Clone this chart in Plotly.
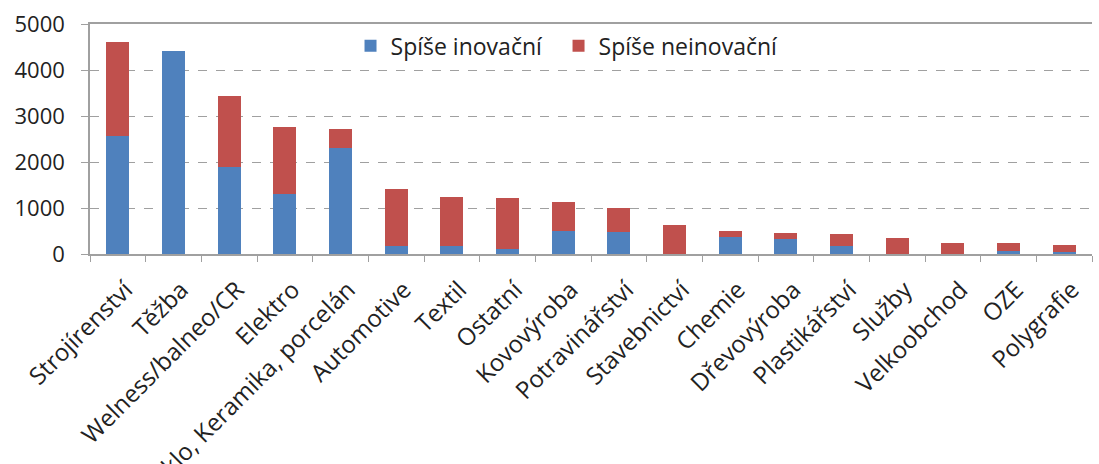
import plotly.graph_objects as go

categories = ["Strojírenství", "Těžba", "Welness/balneo/CR", "Elektro",
              "Sklo, Keramika, porcelán", "Automotive", "Textil", "Ostatní",
              "Kovovýroba", "Potravinářství", "Stavebnictví", "Chemie",
              "Dřevovýroba", "Plastikářství", "Služby", "Velkoobchod", "OZE",
              "Polygrafie"]
inovacni = [2560, 4420, 1890, 1300, 2310, 170, 170, 110, 500, 480, 0, 370,
            320, 165, 0, 0, 60, 40]
totals = [4600, 4420, 3440, 2760, 2710, 1420, 1240, 1220, 1120, 1010, 620,
          500, 450, 430, 350, 245, 250, 195]
neinovacni = [t - i for t, i in zip(totals, inovacni)]

FONT = "Open Sans"
n = len(categories)
LABEL_SHIFT = 0.14  # label offset (category units) to the right of bar centre
label_pos = [i + LABEL_SHIFT for i in range(n)]

fig = go.Figure()
fig.add_trace(go.Bar(x=categories, y=inovacni, name="Spíše inovační",
                     marker=dict(color="#4F81BD", line=dict(width=0)),
                     legend="legend"))
fig.add_trace(go.Bar(x=categories, y=neinovacni, name="Spíše neinovační",
                     marker=dict(color="#C0504D", line=dict(width=0)),
                     legend="legend2"))
# invisible helper trace so the label axis is drawn
fig.add_trace(go.Scatter(x=label_pos, y=[0] * n, xaxis="x2", mode="markers",
                         marker=dict(opacity=0, size=1), showlegend=False,
                         hoverinfo="skip"))

leg_common = dict(orientation="h", xanchor="left", y=0.905, yanchor="middle",
                  font=dict(size=23, family=FONT), bgcolor="rgba(0,0,0,0)",
                  itemwidth=30)

fig.update_layout(
    barmode="stack",
    bargap=0.59,
    width=1099, height=464,
    margin=dict(l=90, r=7, t=24, b=210),
    plot_bgcolor="white", paper_bgcolor="white",
    font=dict(family=FONT, color="#222222", size=20),
    legend=dict(x=0.260, **leg_common),
    legend2=dict(x=0.4676, **leg_common),
    showlegend=True,
    xaxis=dict(
        range=[-0.5, n - 0.5], showticklabels=False,
        showline=True, linecolor="#A0A0A0", linewidth=1.5, mirror=True,
        ticks="outside", tickson="boundaries", ticklen=6, tickcolor="#A0A0A0",
        automargin=False, showgrid=False,
    ),
    xaxis2=dict(
        overlaying="x", anchor="y", side="bottom",
        range=[-0.5, n - 0.5],
        tickmode="array",
        tickvals=label_pos,
        ticktext=categories,
        tickangle=-45, tickfont=dict(size=24, family=FONT, color="#222222"),
        ticks="", showline=False, showgrid=False, zeroline=False,
        ticklabelstandoff=16, automargin=False,
    ),
    yaxis=dict(
        range=[0, 5000], dtick=1000, tickfont=dict(size=22, family=FONT),
        showline=True, linecolor="#A0A0A0", linewidth=1.5,
        ticks="outside", ticklen=7, tickcolor="#A0A0A0",
        ticklabelstandoff=12,
        showgrid=True, gridcolor="#A0A0A0", griddash="dash", gridwidth=1,
        zeroline=False, automargin=False,
    ),
)

fig.write_html("out.html", config={"displayModeBar": False},
               post_script="document.body.style.margin='0';document.body.style.overflow='hidden';")
